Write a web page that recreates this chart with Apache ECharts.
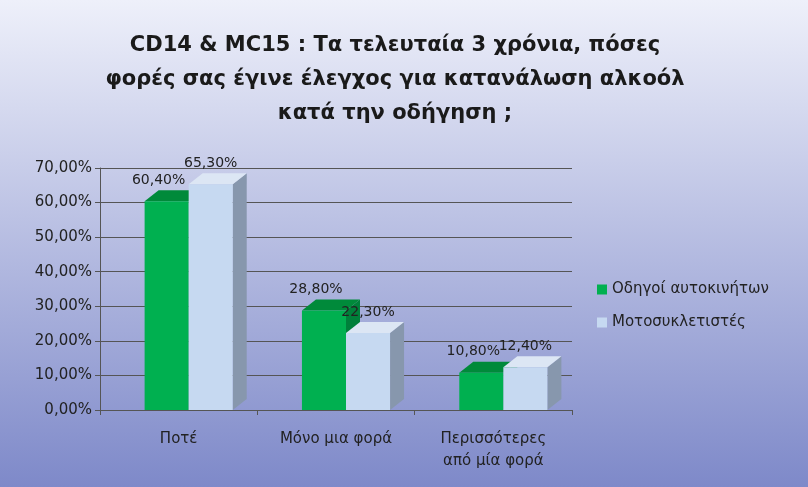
<!DOCTYPE html>
<html><head><meta charset="utf-8">
<script src="https://cdn.jsdelivr.net/npm/echarts@6/dist/echarts.min.js"></script>
<style>html,body{margin:0;padding:0}#c{width:808px;height:487px}</style>
</head><body><div id="c"></div>
<script>
const categories = ['Ποτέ', 'Μόνο μια φορά', 'Περισσότερες\nαπό μία φορά'];
const drivers = [60.4, 28.8, 10.8];
const riders = [65.3, 22.3, 12.4];
const seriesNames = ['Οδηγοί αυτοκινήτων', 'Μοτοσυκλετιστές'];
const fmt = v => v.toFixed(2).replace('.', ',') + '%';
const DX = 14, DY = -11;
const styles = [
  {front:'#00b050', top:'#008a3a', side:'#00803a'},
  {front:'#c6d9f1', top:'#dce6f4', side:'#8797ad'}
];
function makeRender(idx) {
  return function(params, api) {
    const ci = api.value(0), v = api.value(1);
    const bw = api.size([1, 0])[0];
    const w = bw * 0.28;
    const base = api.coord([ci, 0]);
    const top = api.coord([ci, v]);
    const x0 = base[0] - w + idx * w + 10;
    const x1 = x0 + w;
    const yb = base[1], yt = top[1];
    const s = styles[idx];
    return {type:'group', children:[
      {type:'polygon', shape:{points:[[x1,yb],[x1+DX,yb+DY],[x1+DX,yt+DY],[x1,yt]]}, style:{fill:s.side}},
      {type:'polygon', shape:{points:[[x0,yt],[x0+DX,yt+DY],[x1+DX,yt+DY],[x1,yt]]}, style:{fill:s.top}},
      {type:'rect', shape:{x:x0, y:yt, width:w, height:yb-yt}, style:{fill:s.front}},
      {type:'text', style:{text:fmt(v), x:(x0+x1)/2 - (idx===0?8:0), y:yt+DY-3, align:'center', verticalAlign:'bottom', fill:'#222', font:'14px "DejaVu Sans"'}}
    ]};
  };
}
const chart = echarts.init(document.getElementById('c'));
chart.setOption({
  backgroundColor: {type:'linear', x:0, y:0, x2:0, y2:1, colorStops:[{offset:0,color:'#eef0fa'},{offset:1,color:'#7e89c9'}]},
  title: {text:'CD14 & MC15 : Τα τελευταία 3 χρόνια, πόσες\nφορές σας έγινε έλεγχος για κατανάλωση αλκοόλ\nκατά την οδήγηση ;', left:390, textAlign:'center', top:24,
    textStyle:{fontFamily:'DejaVu Sans', fontSize:21, fontWeight:'bold', color:'#1a1a1a', lineHeight:34}},
  legend: {orient:'vertical', left:592, top:277, itemGap:18, itemWidth:10, itemHeight:10, icon:'rect',
    textStyle:{fontFamily:'DejaVu Sans', fontSize:15, color:'#222'},
    data:[{name:seriesNames[0], itemStyle:{color:styles[0].front}},{name:seriesNames[1], itemStyle:{color:styles[1].front}}]},
  grid: {left:100, right:236, top:168, bottom:77},
  xAxis: {type:'category', data:categories, axisTick:{show:true, alignWithLabel:false, lineStyle:{color:'#555'}},
    axisLine:{lineStyle:{color:'#555'}},
    axisLabel:{fontFamily:'DejaVu Sans', fontSize:15, color:'#222', margin:18, lineHeight:22}},
  yAxis: {type:'value', min:0, max:70, interval:10,
    axisLine:{show:true, lineStyle:{color:'#555'}}, axisTick:{show:true, lineStyle:{color:'#555'}},
    splitLine:{lineStyle:{color:'#555', width:1}},
    axisLabel:{formatter: v => v.toFixed(2).replace('.', ',') + '%', fontFamily:'DejaVu Sans', fontSize:15, color:'#222'}},
  series: [
    {name:seriesNames[0], type:'custom', renderItem:makeRender(0), data:drivers.map((v,i)=>[i,v]), itemStyle:{color:styles[0].front}},
    {name:seriesNames[1], type:'custom', renderItem:makeRender(1), data:riders.map((v,i)=>[i,v]), itemStyle:{color:styles[1].front}}
  ]
});
</script></body></html>
